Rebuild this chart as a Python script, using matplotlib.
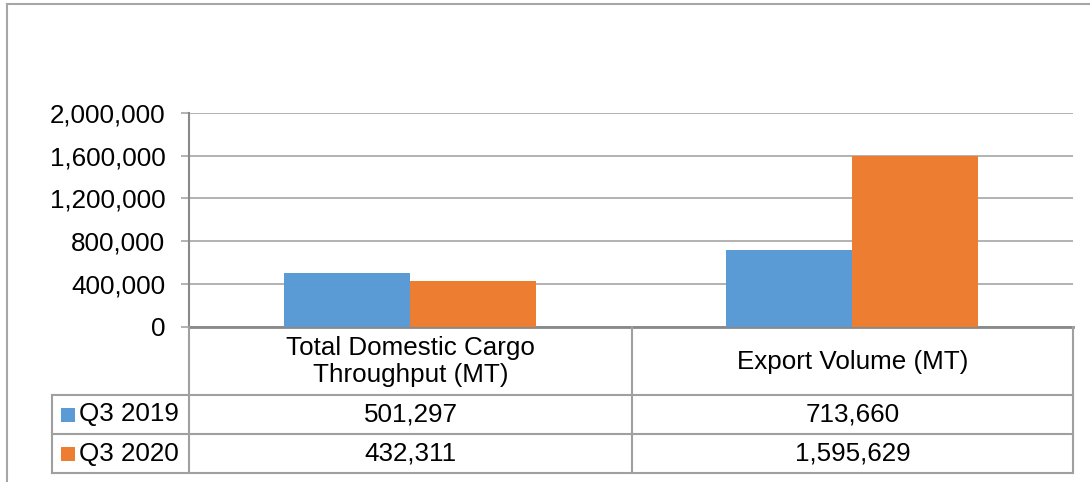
import matplotlib
matplotlib.use("Agg")
import matplotlib.pyplot as plt
from matplotlib.lines import Line2D
from matplotlib.patches import Rectangle

# ---- data ----
categories = ["Total Domestic Cargo\nThroughput (MT)", "Export Volume (MT)"]
series_names = ["Q3 2019", "Q3 2020"]
q3_2019 = [501297, 713660]
q3_2020 = [432311, 1595629]
y_ticks = [0, 400000, 800000, 1200000, 1600000, 2000000]

colors = ["#5B9BD5", "#ED7D31"]
grid_c = "#A6A6A6"
axis_c = "#898989"
tbl_c = "#A0A0A0"

plt.rcParams['font.family'] = ['Liberation Sans', 'DejaVu Sans']
FS = 18.7

W, H = 1090, 482
fig = plt.figure(figsize=(W / 100, H / 100), dpi=100)

def fx(px):
    return px / W

def fy(py):
    return 1 - py / H

def hline(y, x0, x1, c=tbl_c, lw=1.5):
    fig.add_artist(Line2D([fx(x0), fx(x1)], [fy(y), fy(y)], transform=fig.transFigure, color=c, lw=lw))

def vline(x, y0, y1, c=tbl_c, lw=1.5):
    fig.add_artist(Line2D([fx(x), fx(x)], [fy(y0), fy(y1)], transform=fig.transFigure, color=c, lw=lw))

# outer frame (only top and left edges visible)
hline(4, 7, 1095, c=grid_c, lw=1.5)
vline(7, 4, 490, c=grid_c, lw=1.5)

# axes area
ax_l, ax_r, ax_t, ax_b = 189, 1073, 113, 326.7
ax = fig.add_axes([fx(ax_l), fy(ax_b), fx(ax_r) - fx(ax_l), fy(ax_t) - fy(ax_b)])

bw = 0.284
xs = list(range(len(categories)))
ax.bar([x - bw / 2 for x in xs], q3_2019, width=bw, color=colors[0], zorder=3)
ax.bar([x + bw / 2 for x in xs], q3_2020, width=bw, color=colors[1], zorder=3)

ax.set_xlim(-0.5, len(categories) - 0.5)
ax.set_ylim(0, y_ticks[-1])
ax.set_yticks(y_ticks)
ax.set_yticklabels([f"{v:,}" for v in y_ticks], fontsize=FS)
ax.set_xticks([])
ax.grid(axis='y', color=grid_c, lw=1.2, zorder=0)
ax.tick_params(axis='y', direction='out', length=6, width=1.2, color=grid_c, pad=11)
for s in ["top", "right"]:
    ax.spines[s].set_visible(False)
ax.spines["left"].set_color(axis_c)
ax.spines["left"].set_linewidth(1.5)
ax.spines["bottom"].set_color(axis_c)
ax.spines["bottom"].set_linewidth(2)

# ---- data table ----
leg_l = 52
col_x = [ax_l, 632, ax_r]
row_y = [ax_b, 395, 434, 473]

for x in col_x:
    vline(x, row_y[0], row_y[-1])
vline(leg_l, row_y[1], row_y[-1])
for y in row_y[1:]:
    hline(y, leg_l, ax_r)

centers = [(col_x[i] + col_x[i + 1]) / 2 for i in range(len(categories))]
for cx, cat in zip(centers, categories):
    fig.text(fx(cx), fy((row_y[0] + row_y[1]) / 2 + 1), cat, ha='center', va='center',
             fontsize=FS, linespacing=1.15)

for r, (name, vals, c) in enumerate(zip(series_names, [q3_2019, q3_2020], colors)):
    yc = (row_y[r + 1] + row_y[r + 2]) / 2
    fig.add_artist(Rectangle((fx(61), fy(yc + 7)), fx(14), 14 / H,
                             transform=fig.transFigure, color=c, lw=0))
    fig.text(fx(79), fy(yc), name, ha='left', va='center', fontsize=FS)
    for cx, v in zip(centers, vals):
        fig.text(fx(cx), fy(yc), f"{v:,}", ha='center', va='center', fontsize=FS)

fig.savefig("out.png", dpi=100)
